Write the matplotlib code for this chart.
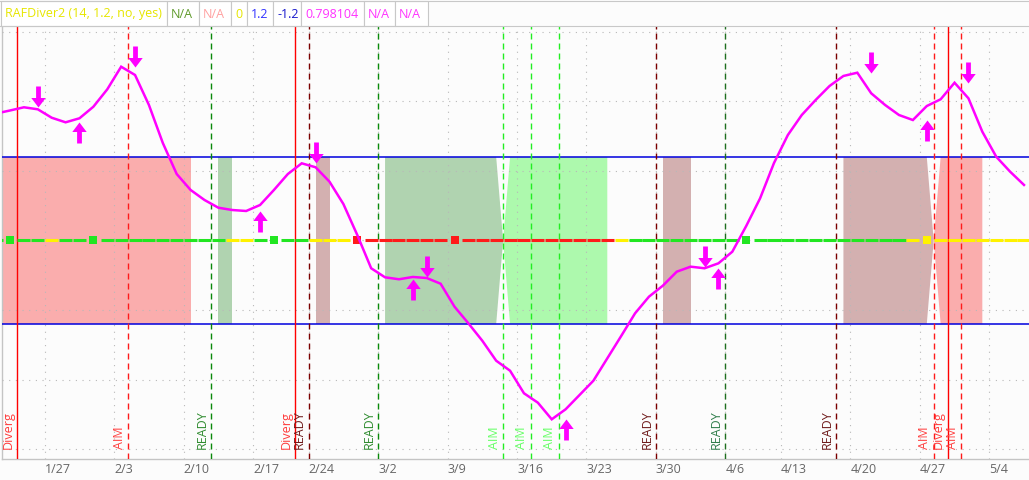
import numpy as np
import matplotlib
matplotlib.use('Agg')
import matplotlib.pyplot as plt
from matplotlib.path import Path
from matplotlib.patches import Polygon, Rectangle
from matplotlib.collections import LineCollection
import matplotlib.transforms as mtransforms

# ---------------- data ----------------
dates = ['1/21', '1/22', '1/23', '1/24', '1/27', '1/28', '1/29', '1/30', '1/31',
         '2/3', '2/4', '2/5', '2/6', '2/7', '2/10', '2/11', '2/12', '2/13', '2/14',
         '2/18', '2/19', '2/20', '2/21', '2/24', '2/25', '2/26', '2/27', '2/28',
         '3/2', '3/3', '3/4', '3/5', '3/6', '3/9', '3/10', '3/11', '3/12', '3/13',
         '3/16', '3/17', '3/18', '3/19', '3/20', '3/23', '3/24', '3/25', '3/26', '3/27',
         '3/30', '3/31', '4/1', '4/2', '4/3', '4/6', '4/7', '4/8', '4/9',
         '4/13', '4/14', '4/15', '4/16', '4/17', '4/20', '4/21', '4/22', '4/23', '4/24',
         '4/27', '4/28', '4/29', '4/30', '5/1', '5/4', '5/5', '5/6']

osc = [1.825, 1.868, 1.914, 1.885, 1.764, 1.698, 1.756, 1.922, 2.172,
       2.497, 2.378, 1.947, 1.401, 0.955, 0.726, 0.582, 0.471, 0.438, 0.424,
       0.510, 0.726, 0.955, 1.109, 1.052, 0.845, 0.524, 0.079, -0.399,
       -0.529, -0.557, -0.524, -0.539, -0.621, -0.951, -1.190, -1.440, -1.727, -1.871,
       -2.195, -2.330, -2.569, -2.425, -2.220, -2.014, -1.693, -1.372, -1.046, -0.807,
       -0.649, -0.448, -0.376, -0.399, -0.328, -0.161, 0.208, 0.606, 1.113,
       1.516, 1.803, 2.019, 2.220, 2.364, 2.411, 2.115, 1.947, 1.803, 1.731,
       1.932, 2.029, 2.267, 2.043, 1.563, 1.204, 0.989, 0.798104]

upper_level = 1.2
lower_level = -1.2
zero_level = 0

week_labels = ['1/27', '2/3', '2/10', '2/17', '2/24', '3/2', '3/9', '3/16', '3/23',
               '3/30', '4/6', '4/13', '4/20', '4/27', '5/4']
week_first_day = ['1/27', '2/3', '2/10', '2/18', '2/24', '3/2', '3/9', '3/16', '3/23',
                  '3/30', '4/6', '4/13', '4/20', '4/27', '5/4']

event_dates = ['1/23', '2/4', '2/12', '2/21', '2/24', '3/2', '3/13', '3/17', '3/19',
               '3/30', '4/6', '4/17', '4/28', '4/29', '4/30']
event_labels = ['Diverg', 'AIM', 'READY', 'Diverg', 'READY', 'READY', 'AIM', 'AIM', 'AIM',
                'READY', 'READY', 'READY', 'AIM', 'Diverg', 'AIM']
event_kinds = ['div', 'aim_red', 'ready_green', 'div', 'ready_maroon', 'ready_green',
               'aim_lime', 'aim_lime', 'aim_lime', 'ready_maroon', 'ready_dkgreen',
               'ready_maroon', 'aim_red', 'div', 'aim_red']

down_arrow_dates = ['1/24', '2/4', '2/24', '3/5', '4/2', '4/21', '4/30']
up_arrow_dates = ['1/29', '2/18', '3/4', '3/19', '4/3', '4/27']

cloud_runs = [('1/21', '2/10', 'pink'), ('2/12', '2/13', 'dkgreen'),
              ('2/24', '2/25', 'dkred'), ('3/2', '3/12', 'dkgreen'),
              ('3/13', '3/24', 'ltgreen'), ('3/30', '4/1', 'dkred'),
              ('4/17', '4/27', 'dkred'), ('4/28', '5/1', 'pink')]

signal_runs = [('1/21', '1/24', 'G'), ('1/27', '1/27', 'Y'), ('1/28', '2/12', 'G'),
               ('2/13', '2/14', 'Y'), ('2/18', '2/21', 'G'), ('2/24', '2/26', 'Y'),
               ('2/27', '3/24', 'R'), ('3/25', '3/25', 'Y'), ('3/26', '4/23', 'G'),
               ('4/24', '5/6', 'Y')]
signal_square_dates = ['1/22', '1/30', '2/19', '2/27', '3/9', '4/7', '4/27']

header_texts = ['RAFDiver2 (14, 1.2, no, yes)', 'N/A', 'N/A', '0', '1.2', '-1.2',
                '0.798104', 'N/A', 'N/A']

# ---------------- styles ----------------
FONT = 'Open Sans'
plt.rcParams['font.family'] = [FONT, 'DejaVu Sans']

cloud_colors = {'pink': '#faadad', 'dkgreen': '#b0d3b0', 'dkred': '#d3b0b0', 'ltgreen': '#adf9ad'}
signal_colors = {'G': '#22e622', 'Y': '#fff200', 'R': '#ff1a1a'}
event_styles = {
    'div': dict(color='#ff0000', ls='-', text='#ff3b3b'),
    'aim_red': dict(color='#ff1a1a', ls='dash', text='#ff4040'),
    'aim_lime': dict(color='#22ee22', ls='dash', text='#66ff66'),
    'ready_green': dict(color='#0a8a0a', ls='dash', text='#2e8b2e'),
    'ready_dkgreen': dict(color='#1f6f1f', ls='dash', text='#2e7d4a'),
    'ready_maroon': dict(color='#7a0000', ls='dash', text='#6e1a1a'),
}
header_colors = ['#e6e600', '#5f9a2a', '#ffa0a0', '#e6e600', '#3333ff', '#1a1acc',
                 '#ff33ff', '#ff33ff', '#ff33ff']
header_edges = [1, 167, 199, 231, 247, 273, 301, 364, 395, 428]

W, H = 1029, 480
idx = {d: i for i, d in enumerate(dates)}
n = len(dates)
x = np.arange(n)
y = np.array(osc)

fig = plt.figure(figsize=(W / 100, H / 100), dpi=100, facecolor='#fcfcfc')
ax_top_px, ax_bot_px, ax_left_px = 26, 459, 2
ax = fig.add_axes([ax_left_px / W, (H - ax_bot_px) / H, (W - ax_left_px) / W,
                   (ax_bot_px - ax_top_px) / H])
ax.set_facecolor('#fcfcfc')

# bar center px = -3.86 + 13.89*i ; value px = 240.5 - 69.6*v
ax.set_xlim((ax_left_px + 3.86) / 13.89, (W + 3.86) / 13.89)
ax.set_ylim((240.5 - ax_bot_px) / 69.6, (240.5 - ax_top_px) / 69.6)

# ---- clouds ----
state = [None] * n
for s, e, c in cloud_runs:
    for i in range(idx[s], idx[e] + 1):
        state[i] = c
i = 0
while i < n:
    if state[i] is None:
        i += 1
        continue
    c = state[i]
    j = i
    while j + 1 < n and state[j + 1] == c:
        j += 1
    pts = []
    if i > 0 and state[i - 1] is not None:
        pts.append((i - 0.5, zero_level))
    pts += [(i, upper_level), (j, upper_level)]
    if j + 1 < n and state[j + 1] is not None:
        pts.append((j + 0.5, zero_level))
    pts += [(j, lower_level), (i, lower_level)]
    if j > i or len(pts) > 4:
        ax.add_patch(Polygon(pts, closed=True, facecolor=cloud_colors[c], lw=0, zorder=1))
    i = j + 1

# ---- grid ----
tick_pos = [idx[d] - 0.5 for d in week_first_day]
ax.set_xticks(tick_pos)
ax.set_xticklabels(week_labels, ha='left')
ax.set_yticks([-3, -2, -1, 0, 1, 2, 3])
ax.tick_params(axis='y', left=False, labelleft=False)
ax.tick_params(axis='x', length=0, pad=3, labelsize=9, labelcolor='#666666')
ax.grid(True, color='#b8b8b8', lw=0.8, ls=(0, (1, 5)), zorder=2)
ax.set_axisbelow(False)
for sp in ['top', 'right']:
    ax.spines[sp].set_visible(False)
for sp in ['left', 'bottom']:
    ax.spines[sp].set_color('#c4c4c4')
    ax.spines[sp].set_linewidth(1.0)

# ---- level lines ----
ax.axhline(upper_level, color='#0000dd', lw=1.1, zorder=3)
ax.axhline(lower_level, color='#0000dd', lw=1.1, zorder=3)

# ---- event lines & labels ----
text_off = mtransforms.offset_copy(ax.transData, fig=fig, x=-2.5, y=0, units='dots')
for d, lab, k in zip(event_dates, event_labels, event_kinds):
    st = event_styles[k]
    xp = idx[d] - 0.5
    if st['ls'] == 'dash':
        ax.axvline(xp, color=st['color'], lw=1.0, ls=(0, (4.3, 2.9)), zorder=4)
    else:
        ax.axvline(xp, color=st['color'], lw=1.0, zorder=4)
    ax.text(xp, -3.0, lab, rotation=90, ha='right', va='bottom', color=st['text'],
            fontsize=9, transform=text_off, zorder=6)

# ---- signal line ----
sig = [None] * n
for s, e, c in signal_runs:
    for i in range(idx[s], idx[e] + 1):
        sig[i] = c
squares = set(idx[d] for d in signal_square_dates)
segs, cols = [], []
for i in range(n):
    if i in squares or sig[i] is None:
        continue
    segs.append([(i - 0.47, zero_level), (i + 0.47, zero_level)])
    cols.append(signal_colors[sig[i]])
ax.add_collection(LineCollection(segs, colors=cols, linewidths=2.2, capstyle='butt', zorder=5))
for d in signal_square_dates:
    i = idx[d]
    ax.plot([i], [zero_level], marker='s', ms=5.8, mew=0, color=signal_colors[sig[i]], zorder=6)

# ---- oscillator ----
ax.plot(x, y, color='#ff00ff', lw=1.8, zorder=7, solid_joinstyle='miter')

# ---- arrows ----
def arrow_path(direction):
    s = 1 if direction == 'down' else -1
    v = [(0, 0), (7.2, 9.5 * s), (2.4, 9.5 * s), (2.4, 21 * s), (-2.4, 21 * s),
         (-2.4, 9.5 * s), (-7.2, 9.5 * s), (0, 0)]
    codes = [Path.MOVETO] + [Path.LINETO] * 6 + [Path.CLOSEPOLY]
    return Path(v, codes)

ms_arrow = 2 * 21 * 72 / 100
for d in down_arrow_dates:
    i = idx[d]
    ax.plot([i], [y[i - 1]], marker=arrow_path('down'), ms=ms_arrow, mew=0,
            color='#ff00ff', zorder=8, clip_on=False)
for d in up_arrow_dates:
    i = idx[d]
    ax.plot([i], [y[i - 1]], marker=arrow_path('up'), ms=ms_arrow, mew=0,
            color='#ff00ff', zorder=8, clip_on=False)

# ---- header ----
def fx(px):
    return px / W

def fy(py):
    return 1 - py / H

fig.add_artist(plt.Line2D([0, 1], [fy(1), fy(1)], transform=fig.transFigure,
                          color='#c8c8c8', lw=0.8))
fig.add_artist(plt.Line2D([0, 1], [fy(25.5), fy(25.5)], transform=fig.transFigure,
                          color='#c8c8c8', lw=0.8))
for k, (t, c) in enumerate(zip(header_texts, header_colors)):
    x0, x1 = header_edges[k], header_edges[k + 1]
    fig.add_artist(Rectangle((fx(x0), fy(25.5)), fx(x1 - x0), 24.5 / H,
                             transform=fig.transFigure, facecolor='white',
                             edgecolor='#c8c8c8', lw=0.8))
    fig.text(fx(x0 + 4), fy(14), t, color=c, fontsize=9, ha='left', va='center')

fig.savefig('out.png', dpi=100, facecolor=fig.get_facecolor())
